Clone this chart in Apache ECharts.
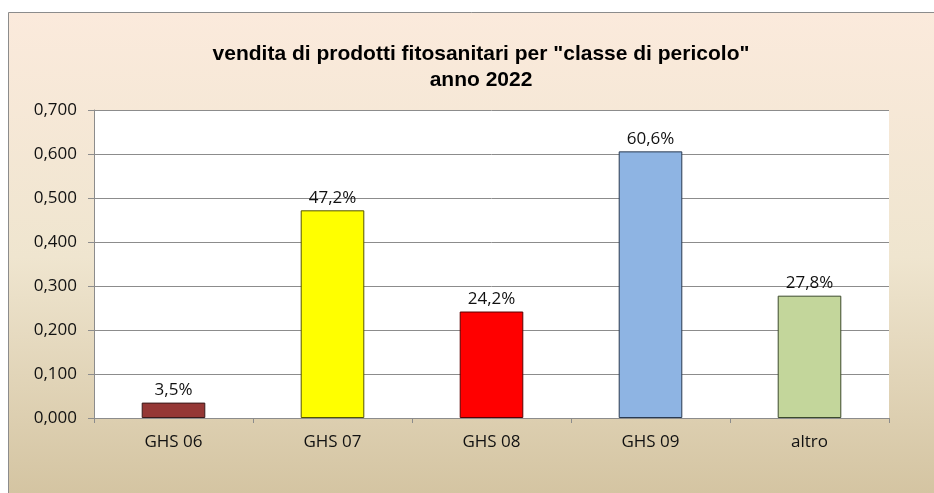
<!DOCTYPE html>
<html>
<head>
<meta charset="utf-8">
<title>vendita di prodotti fitosanitari</title>
<script src="https://cdn.jsdelivr.net/npm/echarts@6/dist/echarts.min.js"></script>
<style>
html, body { margin: 0; padding: 0; background: #fff; }
#main { width: 934px; height: 493px; }
</style>
</head>
<body>
<div id="main"></div>
<script>
// dati
var categorie = ['GHS 06', 'GHS 07', 'GHS 08', 'GHS 09', 'altro'];
var valori = [0.035, 0.472, 0.242, 0.606, 0.278];
var colori = ['#953735', '#FFFF00', '#FF0000', '#8EB4E3', '#C3D69B'];
var bordi = ['#3a1a1a', '#555500', '#5a0000', '#2a3a50', '#3c4a2c'];

var font = '"Open Sans", sans-serif';

var myChart = echarts.init(document.getElementById('main'));

var option = {
    animation: false,
    graphic: [{
        type: 'rect',
        silent: true,
        z: -10,
        shape: { x: 8.5, y: 12.5, width: 940, height: 490 },
        style: {
            stroke: '#8c8c8c',
            lineWidth: 1,
            fill: {
                type: 'linear', x: 0, y: 0, x2: 0, y2: 1,
                colorStops: [
                    { offset: 0, color: '#FBEADC' },
                    { offset: 0.5, color: '#EFE5CF' },
                    { offset: 1, color: '#D3C3A0' }
                ]
            }
        }
    }],
    title: {
        text: 'vendita di prodotti fitosanitari per "classe di pericolo"\nanno 2022',
        left: 476,
        textAlign: 'center',
        top: 36,
        textStyle: {
            fontFamily: '"Liberation Sans", sans-serif',
            fontWeight: 'bold',
            fontSize: 21,
            lineHeight: 26,
            color: '#000'
        }
    },
    grid: {
        left: 94,
        right: 45,
        top: 110,
        bottom: 75,
        show: true,
        backgroundColor: '#fff',
        borderWidth: 0
    },
    xAxis: {
        type: 'category',
        data: categorie,
        axisLine: { lineStyle: { color: '#8c8c8c' } },
        axisTick: { show: true, length: 5, lineStyle: { color: '#8c8c8c' } },
        axisLabel: { color: '#111', fontSize: 17, margin: 16, fontFamily: font }
    },
    yAxis: {
        type: 'value',
        min: 0,
        max: 0.7,
        interval: 0.1,
        axisLine: { show: true, lineStyle: { color: '#8c8c8c' } },
        axisTick: { show: true, length: 6, lineStyle: { color: '#8c8c8c' } },
        splitLine: { lineStyle: { color: '#8c8c8c' } },
        axisLabel: {
            color: '#111',
            fontSize: 17,
            margin: 17,
            fontFamily: font,
            formatter: function (v) { return v.toFixed(3).replace('.', ','); }
        }
    },
    series: [{
        type: 'bar',
        barWidth: '40%',
        data: valori.map(function (v, i) {
            return {
                value: v,
                itemStyle: { color: colori[i], borderColor: bordi[i], borderWidth: 1 }
            };
        }),
        label: {
            show: true,
            position: 'top',
            distance: 4,
            color: '#111',
            fontSize: 17,
            fontFamily: font,
            formatter: function (p) { return (p.value * 100).toFixed(1).replace('.', ',') + '%'; }
        }
    }]
};

myChart.setOption(option);
</script>
</body>
</html>
